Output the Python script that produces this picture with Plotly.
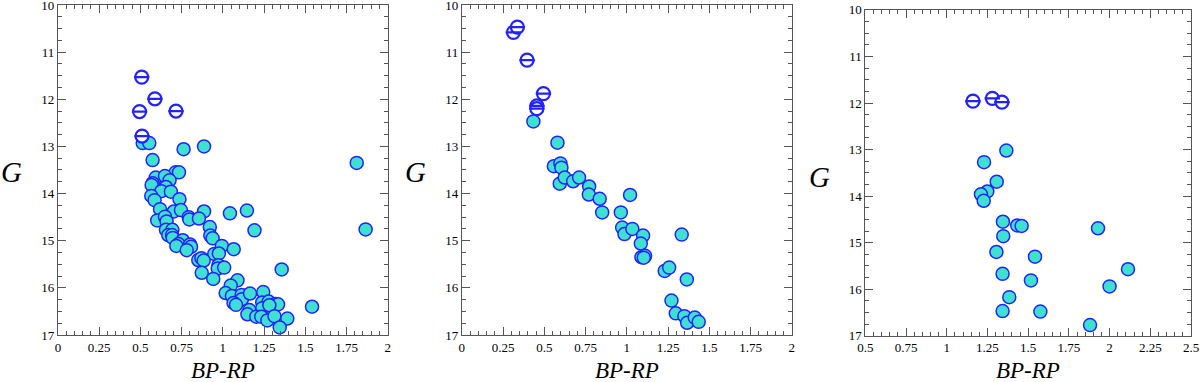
import plotly.graph_objects as go

# panel 1
p1_bp = [0.514, 0.554, 0.762, 0.886, 0.574, 1.812, 1.866, 0.714, 0.734, 0.593,
         0.649, 0.574, 0.568, 0.677, 0.655, 0.627, 0.685, 0.566, 0.586, 0.737,
         0.619, 0.703, 0.746, 0.886, 1.043, 1.146, 0.793, 0.797, 0.855, 0.602,
         0.649, 0.659, 0.655, 0.694, 0.669, 0.692, 0.696, 0.921, 1.192, 0.924,
         0.938, 0.757, 0.731, 0.718, 0.801, 0.807, 0.781, 0.994, 1.066, 0.948,
         0.976, 0.851, 0.870, 0.884, 0.973, 0.969, 1.008, 1.357, 0.872, 0.942,
         1.089, 1.048, 1.017, 1.055, 1.114, 1.116, 1.165, 1.245, 1.065, 1.080,
         1.239, 1.278, 1.318, 1.335, 1.239, 1.282, 1.161, 1.149, 1.203, 1.233,
         1.270, 1.313, 1.391, 1.345, 1.541]
p1_g = [12.93, 12.93, 13.06, 13.00, 13.29, 13.35, 14.76, 13.55, 13.55, 13.66,
        13.63, 13.78, 13.82, 13.72, 13.86, 13.95, 13.96, 14.05, 14.14, 14.12,
        14.33, 14.38, 14.35, 14.38, 14.42, 14.36, 14.50, 14.55, 14.53, 14.57,
        14.49, 14.59, 14.77, 14.77, 14.88, 14.88, 14.94, 14.71, 14.78, 14.89,
        14.95, 14.99, 15.07, 15.11, 15.08, 15.13, 15.20, 15.11, 15.18, 15.28,
        15.27, 15.41, 15.37, 15.42, 15.52, 15.59, 15.57, 15.61, 15.68, 15.81,
        15.84, 15.95, 16.11, 16.17, 16.15, 16.24, 16.12, 16.09, 16.32, 16.36,
        16.31, 16.29, 16.34, 16.35, 16.43, 16.37, 16.47, 16.56, 16.61, 16.61,
        16.69, 16.60, 16.65, 16.84, 16.40]
p1_bright_bp = [0.508, 0.588, 0.495, 0.716, 0.510]
p1_bright_g = [11.53, 11.99, 12.26, 12.25, 12.78]

# panel 2
p2_bp = [0.434, 0.580, 0.558, 0.598, 0.604, 0.594, 0.624, 0.675, 0.711, 0.772,
         0.770, 0.836, 0.851, 1.020, 0.964, 0.972, 0.986, 1.034, 1.099, 1.085,
         1.089, 1.111, 1.103, 1.333, 1.230, 1.257, 1.364, 1.271, 1.297, 1.349,
         1.366, 1.412, 1.436]
p2_g = [12.47, 12.92, 13.42, 13.36, 13.45, 13.79, 13.66, 13.74, 13.66, 13.85,
        14.02, 14.11, 14.40, 14.03, 14.40, 14.72, 14.86, 14.75, 14.89, 15.06,
        15.35, 15.32, 15.36, 14.87, 15.64, 15.57, 15.82, 16.27, 16.54, 16.60,
        16.74, 16.63, 16.72]
p2_bright_bp = [0.313, 0.337, 0.396, 0.495, 0.455, 0.455]
p2_bright_g = [10.58, 10.47, 11.17, 11.88, 12.14, 12.20]

# panel 3
p3_bp = [1.366, 1.229, 1.307, 1.249, 1.210, 1.227, 1.345, 1.433, 1.460, 1.929,
         1.347, 1.305, 1.542, 2.113, 1.343, 1.517, 2.000, 1.384, 1.343, 1.575,
         1.880]
p3_g = [13.02, 13.27, 13.69, 13.90, 13.96, 14.10, 14.55, 14.63, 14.64, 14.69,
        14.86, 15.20, 15.30, 15.57, 15.67, 15.81, 15.94, 16.17, 16.47, 16.48,
        16.77]
p3_bright_bp = [1.161, 1.280, 1.339]
p3_bright_g = [11.96, 11.90, 11.98]

x_ticks_12 = [0, 0.25, 0.5, 0.75, 1, 1.25, 1.5, 1.75, 2]
x_text_12 = ["0", "0.25", "0.5", "0.75", "1", "1.25", "1.5", "1.75", "2"]
x_ticks_3 = [0.5, 0.75, 1, 1.25, 1.5, 1.75, 2, 2.25, 2.5]
x_text_3 = ["0.5", "0.75", "1", "1.25", "1.5", "1.75", "2", "2.25", "2.5"]
y_ticks = [10, 11, 12, 13, 14, 15, 16, 17]

FILL = "#40E0D0"
EDGE = "#2222ff"
FONT = "Liberation Serif"

fig = go.Figure()

panels = [
    (p1_bp, p1_g, p1_bright_bp, p1_bright_g, "x", "y"),
    (p2_bp, p2_g, p2_bright_bp, p2_bright_g, "x2", "y2"),
    (p3_bp, p3_g, p3_bright_bp, p3_bright_g, "x3", "y3"),
]
for bp, g, bbp, bg, xa, ya in panels:
    fig.add_trace(go.Scatter(x=bp, y=g, mode="markers", xaxis=xa, yaxis=ya,
                             marker=dict(symbol="circle", size=13, color=FILL,
                                         line=dict(color=EDGE, width=1.5)),
                             showlegend=False))
    # striped (bright) stars: white disc with blue rim and a bar across
    fig.add_trace(go.Scatter(x=bbp, y=bg, mode="markers", xaxis=xa, yaxis=ya,
                             marker=dict(symbol="circle", size=13, color="white",
                                         line=dict(color=EDGE, width=2.2)),
                             showlegend=False))
    fig.add_trace(go.Scatter(x=bbp, y=bg, mode="markers", xaxis=xa, yaxis=ya,
                             marker=dict(symbol="line-ew", size=11, color=EDGE,
                                         line=dict(color=EDGE, width=2.2)),
                             showlegend=False))

axis_common = dict(showline=True, linecolor="#555", linewidth=1, mirror="allticks",
                   ticks="inside", tickcolor="#555", ticklen=8, tickwidth=1,
                   showgrid=False, zeroline=False, ticklabeloverflow="allow",
                   tickfont=dict(family=FONT, size=13, color="black"))

xdoms = [[0.0483, 0.3231], [0.3848, 0.6598], [0.7211, 0.9925]]
ydoms = [[0.123, 0.987], [0.123, 0.987], [0.121, 0.974]]
xranges = [[0, 2], [0, 2], [0.5, 2.5]]
xticks = [(x_ticks_12, x_text_12), (x_ticks_12, x_text_12), (x_ticks_3, x_text_3)]

layout = dict(width=1200, height=382,
              margin=dict(l=0, r=0, t=0, b=0, autoexpand=False),
              font=dict(family=FONT, color="black"),
              plot_bgcolor="white", paper_bgcolor="white")
for i in range(3):
    sx = "" if i == 0 else str(i + 1)
    layout["xaxis" + sx] = dict(axis_common, domain=xdoms[i], range=xranges[i],
                                anchor="y" + sx, tickvals=xticks[i][0],
                                ticktext=xticks[i][1],
                                minor=dict(dtick=0.05, ticks="inside", ticklen=4,
                                           tickcolor="#555"))
    layout["yaxis" + sx] = dict(axis_common, domain=ydoms[i], range=[17, 10],
                                anchor="x" + sx, tickvals=y_ticks,
                                minor=dict(dtick=0.25, ticks="inside", ticklen=4,
                                           tickcolor="#555"))
fig.update_layout(**layout)

anns = []
for i in range(3):
    cx = (xdoms[i][0] + xdoms[i][1]) / 2
    anns.append(dict(text="<i>BP-RP</i>", x=cx, y=1 - 370 / 382,
                     xanchor="center", yanchor="middle",
                     xref="paper", yref="paper", showarrow=False,
                     font=dict(family=FONT, size=23, color="black")))
gx = [11, 415, 819]
gy = [172, 172, 177]
for i in range(3):
    anns.append(dict(text="<i>G</i>", x=gx[i] / 1200, y=1 - gy[i] / 382,
                     xanchor="center", yanchor="middle",
                     xref="paper", yref="paper", showarrow=False,
                     font=dict(family=FONT, size=29, color="black")))
fig.update_layout(annotations=anns)

fig.write_html("out.html", config={"displayModeBar": False},
               post_script="document.body.style.margin='0';")
